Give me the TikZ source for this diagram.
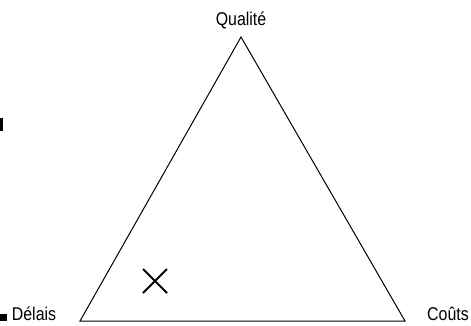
\documentclass[tikz,border=0pt]{standalone}
\usepackage{fontspec}
\setmainfont{Liberation Sans}[FakeStretch=0.86]
\begin{document}
\begin{tikzpicture}[x=1pt,y=-1pt,
  lbl/.style={inner sep=0pt,anchor=base,font=\fontsize{18.5}{20}\selectfont},
  edge/.style={draw=black,line width=1pt,line join=miter},
  cross/.style={draw=black,line width=2pt},
  blotch/.style={fill=black}]
\useasboundingbox (0,0) rectangle (471,325);
\coordinate (Q) at (241,37);
\coordinate (D) at (80,321);
\coordinate (C) at (405,321);
\draw[edge] (Q) -- (D) -- (C) -- cycle;
\node[lbl] (lq) at (241,25) {Qualité};
\node[lbl] (ld) at (34,320) {Délais};
\node[lbl] (lc) at (448,320) {Coûts};
\coordinate (x1) at (143,269);
\coordinate (x2) at (167,293);
\coordinate (x3) at (143,293);
\coordinate (x4) at (167,269);
\draw[cross] (x1) -- (x2);
\draw[cross] (x3) -- (x4);
\fill[blotch] (0,118) rectangle (3,131);
\fill[blotch] (0,314) rectangle (7,321);
\end{tikzpicture}
\end{document}
